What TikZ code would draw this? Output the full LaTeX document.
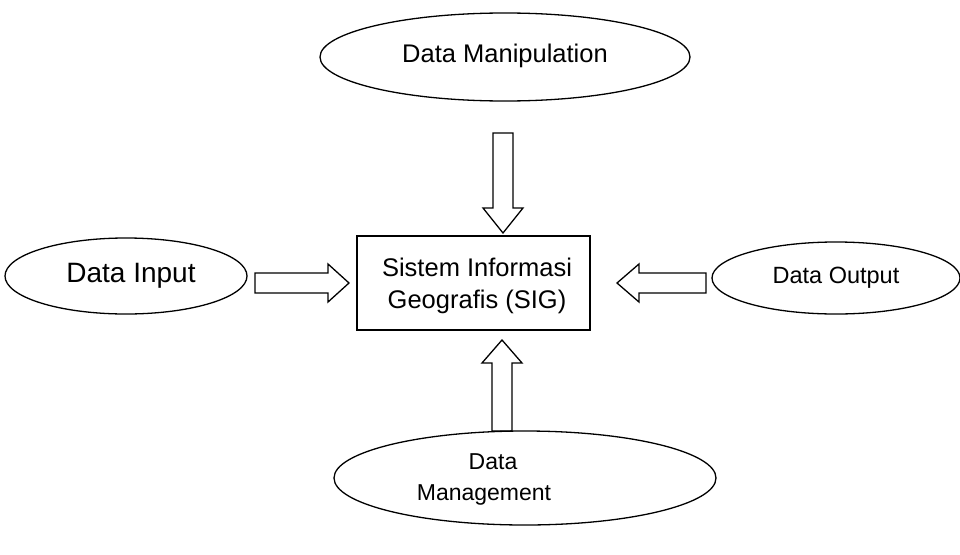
\documentclass[tikz,border=0pt]{standalone}
\usepackage{fontspec}
\setmainfont{Liberation Sans}
\usetikzlibrary{shapes.geometric}
\begin{document}
\begin{tikzpicture}[x=1pt,y=-1pt,
  oval/.style={draw, line width=1.3pt, ellipse, inner sep=0pt, align=center},
  sigbox/.style={draw, line width=1.3pt, inner sep=0pt, align=center},
  txt/.style={inner sep=0pt, align=center},
  blk/.style={draw, line width=1.3pt, line join=miter}]
\useasboundingbox (0,0) rectangle (960,554);
% ellipses
\node[oval, minimum width=370, minimum height=88] (dm) at (505,57) {};
\node[txt, font=\fontsize{25.5}{30}\selectfont] (dmt) at (505,56) {Data Manipulation};
\node[oval, minimum width=242, minimum height=76] (di) at (126,276) {};
\node[txt, font=\fontsize{28}{32}\selectfont] (dit) at (131,276) {Data Input};
\node[oval, minimum width=248, minimum height=72] (do) at (836,278) {};
\node[txt, font=\fontsize{23.5}{27}\selectfont] (dot) at (836,278) {Data Output};
\node[oval, minimum width=382, minimum height=94] (dmg) at (525,478) {};
\node[txt, font=\fontsize{23}{31}\selectfont] (dmgt) at (484,479) {\hspace*{18pt}Data\\Management};
% central box
\node[sigbox, minimum width=233, minimum height=94] (sig) at (473.5,283) {};
\node[txt, font=\fontsize{25.5}{32}\selectfont] (sigt) at (477,286) {Sistem Informasi\\Geografis (SIG)};
% block arrows
\coordinate (t0) at (503,133);
\draw[blk] (t0) ++(-10,0) -- ++(0,75) -- ++(-10,0) -- (503,233) -- (523,208) -- ++(-10,0) -- ++(0,-75) -- cycle;
\coordinate (l0) at (255,283);
\draw[blk] (l0) ++(0,-10) -- ++(73,0) -- ++(0,-9) -- (349,283) -- (328,302) -- ++(0,-9) -- ++(-73,0) -- cycle;
\coordinate (r0) at (706,283);
\draw[blk] (r0) ++(0,-10) -- ++(-67,0) -- ++(0,-9) -- (617,283) -- (639,302) -- ++(0,-9) -- ++(67,0) -- cycle;
\coordinate (b0) at (502,431);
\draw[blk] (b0) ++(-10,0) -- ++(0,-68) -- ++(-10,0) -- (502,340) -- (522,363) -- ++(-10,0) -- ++(0,68) -- cycle;
\end{tikzpicture}
\end{document}
